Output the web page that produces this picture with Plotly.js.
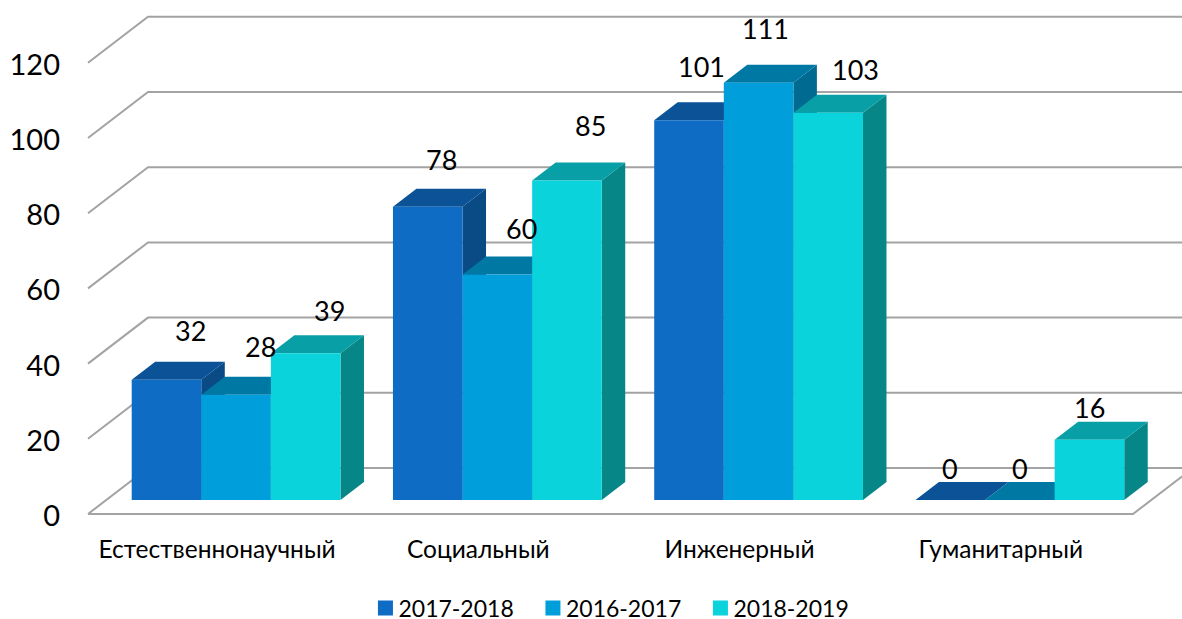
<!DOCTYPE html>
<html>
<head>
<meta charset="utf-8">
<script src="https://cdn.plot.ly/plotly-3.0.1.min.js"></script>
<style>html,body{margin:0;padding:0;background:#fff}#chart{width:1182px;height:619px}</style>
</head>
<body>
<div id="chart"></div>
<script>
const categories = ['Естественнонаучный', 'Социальный', 'Инженерный', 'Гуманитарный'];
const seriesNames = ['2017-2018', '2016-2017', '2018-2019'];
const values2017 = [32, 78, 101, 0];
const values2016 = [28, 60, 111, 0];
const values2018 = [39, 85, 103, 16];
const yTicks = [0, 20, 40, 60, 80, 100, 120];

const seriesValues = [values2017, values2016, values2018];
const frontColors = ['#0F6CC4', '#009FDB', '#0AD3DC'];
const topColors = ['#0B5296', '#0078A4', '#08A0A6'];
const sideColors = ['#0A4A85', '#006A90', '#078688'];
const labelShift = [
  [[24, 49], [14, 47], [12, 54], [0, 32]],
  [[24, 48], [24, 46], [7, 54], [0, 32]],
  [[24, 43], [24, 55], [27, 43], [0, 32]]
];

// Scale of the drawing (pixels per axis unit)
const W = 1182, H = 619, mL = 80, mB = 89;
const pxX = 261.25, pxY = 3.76, x0px = 88, y0px = 514;
const DX = 60 / pxX, DY = 46 / pxY;     // full floor depth in axis units
const d0 = 14 / 46, d1 = 32 / 46;       // front and back of the bars in the depth
const barW = 69.6 / pxX;
const yLabelNudge = 0.5;                // tick labels sit slightly below their line

const xRange = [(mL - x0px) / pxX, (W - x0px) / pxX];
const yRange = [(y0px - (H - mB)) / pxY, y0px / pxY];

const px = (x, d) => x + d * DX;
const py = (v, d) => v + d * DY;

// walls and floor
const gridX = [], gridY = [];
yTicks.forEach(t => {
  gridX.push(px(0, 0), px(0, 1), px(categories.length + 1, 1), null);
  gridY.push(py(t, 0), py(t, 1), py(t, 1), null);
});
gridX.push(px(0, 0), px(categories.length, 0), px(categories.length, 1));
gridY.push(0, 0, py(0, 1));

const traces = [{
  type: 'scatter', mode: 'lines', x: gridX, y: gridY, showlegend: false, hoverinfo: 'skip',
  line: {color: '#A3A3A3', width: 2}
}];

const barLeft = (i, s) => i + 0.497 - 1.5 * barW + s * barW;
const sideTraces = [], topTraces = [], barTraces = [], legendTraces = [], annotations = [];

seriesValues.forEach((vals, s) => {
  const sx = [], sy = [], tx = [], ty = [];
  vals.forEach((v, i) => {
    const l = barLeft(i, s), r = l + barW;
    sx.push(px(r, d0), px(r, d1), px(r, d1), px(r, d0), null);
    sy.push(py(v, d0), py(v, d1), py(0, d1), py(0, d0), null);
    tx.push(px(l, d0), px(r, d0), px(r, d1), px(l, d1), null);
    ty.push(py(v, d0), py(v, d0), py(v, d1), py(v, d1), null);
    annotations.push({
      x: px(l + barW / 2, d0), y: py(v, d0), xref: 'x', yref: 'y', text: String(v),
      showarrow: false, xanchor: 'center', yanchor: 'middle',
      xshift: labelShift[s][i][0], yshift: labelShift[s][i][1],
      font: {family: 'Lato, sans-serif', size: 27, color: '#000'}
    });
  });
  sideTraces.push({type: 'scatter', mode: 'lines', x: sx, y: sy, fill: 'toself', fillcolor: sideColors[s],
    line: {width: 0, color: sideColors[s]}, showlegend: false, hoverinfo: 'skip'});
  topTraces.push({type: 'scatter', mode: 'lines', x: tx, y: ty, fill: 'toself', fillcolor: topColors[s],
    line: {width: 0, color: topColors[s]}, showlegend: false, hoverinfo: 'skip'});
  barTraces.push({
    type: 'bar', name: seriesNames[s], xaxis: 'x2', yaxis: 'y2',
    x: vals.map((v, i) => px(barLeft(i, s) + barW / 2, d0)),
    y: vals, base: vals.map(() => py(0, d0)), width: barW,
    marker: {color: frontColors[s], line: {width: 0}}, showlegend: false
  });
  legendTraces.push({
    type: 'scatter', mode: 'markers', name: seriesNames[s], x: [null], y: [null],
    marker: {symbol: 'square', size: 15, color: frontColors[s]}
  });
});

const layout = {
  width: W, height: H, autosize: false,
  paper_bgcolor: '#fff', plot_bgcolor: '#fff',
  margin: {l: mL, r: 0, t: 0, b: mB, pad: 0},
  showlegend: true,
  barmode: 'overlay',
  font: {family: 'Lato, sans-serif', color: '#000'},
  xaxis: {
    range: xRange, fixedrange: true, showgrid: false, zeroline: false, showline: false, ticks: '',
    tickmode: 'array', tickvals: categories.map((c, i) => i + 0.494), ticktext: categories,
    tickfont: {family: 'Lato, "Noto Sans", sans-serif', size: 24.5, color: '#000'}, ticklabelstandoff: 2
  },
  yaxis: {
    range: yRange, fixedrange: true, showgrid: false, zeroline: false, showline: false, ticks: '',
    tickmode: 'array', tickvals: yTicks.map(t => t - yLabelNudge), ticktext: yTicks.map(String),
    tickfont: {family: 'Lato, sans-serif', size: 29, color: '#000'}, ticklabelstandoff: 19
  },
  xaxis2: {range: xRange, overlaying: 'x', visible: false, fixedrange: true},
  yaxis2: {range: yRange, overlaying: 'y', visible: false, fixedrange: true},
  legend: {
    orientation: 'h', x: 0.4809, xanchor: 'center', xref: 'paper', yref: 'container', y: 0.0178, yanchor: 'middle',
    font: {family: 'Lato, sans-serif', size: 23, color: '#000'},
    itemsizing: 'trace', entrywidth: 122.5, entrywidthmode: 'pixels', bgcolor: 'rgba(0,0,0,0)', itemclick: false, itemdoubleclick: false
  },
  annotations: annotations
};

Plotly.newPlot('chart', traces.concat(sideTraces, topTraces, legendTraces, barTraces), layout, {displayModeBar: false, responsive: false})
  .then(gd => {
    // the reference keeps its swatches closer to their text than the legend's default gap
    gd.querySelectorAll('.legendsymbols').forEach(g => g.setAttribute('transform', 'translate(7,0)'));
  });
</script>
</body>
</html>
